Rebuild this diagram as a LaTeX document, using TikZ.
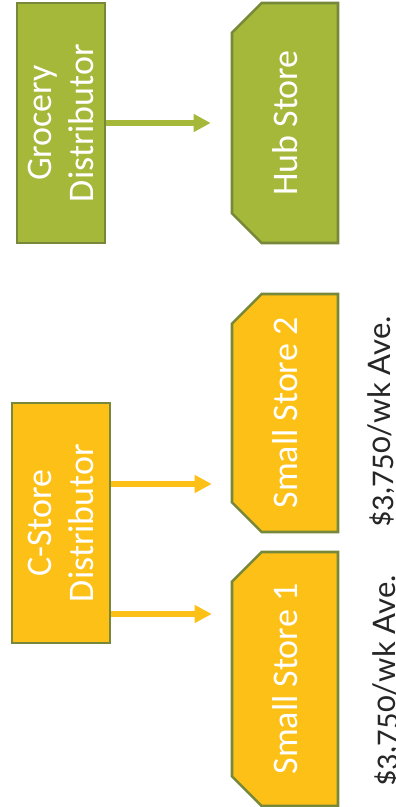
\documentclass[tikz,border=0pt]{standalone}
\usepackage{fontspec}
\setmainfont{Carlito}
\newfontfamily\notefont{Lato}[Numbers=OldStyle]
\usetikzlibrary{shapes.misc,arrows.meta,calc}
\definecolor{leaf}{HTML}{A5B83A}
\definecolor{olive}{HTML}{77883A}
\definecolor{amber}{HTML}{FCC016}
\definecolor{ink}{HTML}{262626}
\tikzset{
  box/.style={rotate=90, draw=olive, line width=2.6pt, text=white, align=center,
    font=\fontsize{36}{42}\selectfont, inner sep=0pt},
  plainbox/.style={box, rectangle},
  snipbox/.style={box, chamfered rectangle,
    chamfered rectangle corners={north east, north west},
    chamfered rectangle xsep=17pt, chamfered rectangle ysep=17pt},
  link/.style={line width=5.5pt, -{Triangle[length=17pt,width=17pt]}},
  note/.style={rotate=90, anchor=base, text=ink,
    font=\notefont\fontsize{31}{38}\selectfont, inner sep=0pt},
}
\begin{document}
\begin{tikzpicture}[x=1pt,y=-1pt]
\useasboundingbox (0,0) rectangle (396,807);

% grocery chain
\node[plainbox, fill=leaf, minimum width=240pt, minimum height=88pt] (gd) at (61,123) {Grocery\\Distributor};
\node[snipbox, fill=leaf, minimum width=240pt, minimum height=106pt] (hub) at (285,123) {Hub Store};

% convenience-store chain
\node[plainbox, fill=amber, minimum width=240pt, minimum height=98pt] (cs) at (61,523) {C-Store\\Distributor};
\node[snipbox, fill=amber, minimum width=238pt, minimum height=106pt] (s2) at (285,413) {Small Store 2};
\node[snipbox, fill=amber, minimum width=254pt, minimum height=106pt] (s1) at (285,679) {Small Store 1};

% weekly averages
\node[note] (v2) at (390,422) {\$3,750/wk Ave.};
\node[note] (v1) at (395,681) {\$3,750/wk Ave.};

% supply links
\draw[link, leaf] (gd.south) -- ([xshift=-20pt]gd.south -| hub.north);
\draw[link, amber] (cs.south |- 0,484) -- ([xshift=-19pt]s2.north |- 0,484);
\draw[link, amber] (cs.south |- 0,614) -- ([xshift=-19pt]s1.north |- 0,614);
\end{tikzpicture}
\end{document}
